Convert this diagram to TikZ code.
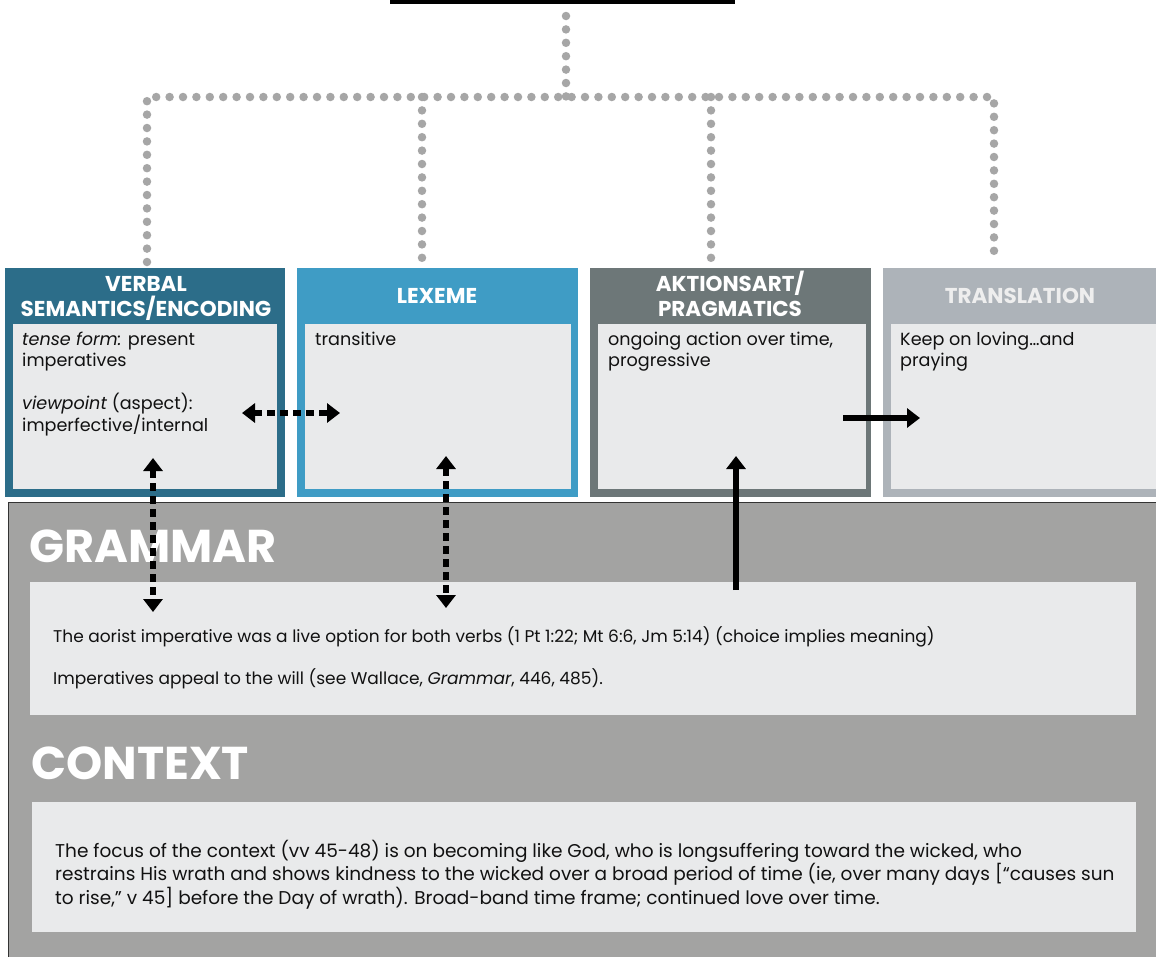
\documentclass[tikz,border=0pt]{standalone}
\usepackage{fontspec}
\setmainfont{Poppins}
\usetikzlibrary{arrows.meta}
\definecolor{verbalc}{HTML}{2C6D89}
\definecolor{lexemec}{HTML}{3F9CC5}
\definecolor{aktionc}{HTML}{6D7778}
\definecolor{transc}{HTML}{ADB3B9}
\definecolor{transtext}{HTML}{EEEEEE}
\definecolor{bodyc}{HTML}{E9EAEB}
\definecolor{panelc}{HTML}{A3A3A2}
\definecolor{dotc}{HTML}{A6A6A6}
\definecolor{inkc}{HTML}{111111}
\begin{document}
\begin{tikzpicture}[x=1pt,y=-1pt,
  card/.style={anchor=north west, inner sep=0, minimum width=280, minimum height=229},
  cardbody/.style={anchor=north west, inner sep=0, fill=bodyc, minimum width=264, minimum height=165},
  cardhead/.style={text=white, align=center, font=\bfseries\fontsize{21.5}{25}\selectfont},
  bodytext/.style={anchor=north west, inner sep=0, align=left, text=inkc, font=\fontsize{17.6}{21}\selectfont},
  panel/.style={anchor=north west, inner sep=0, fill=panelc, draw=black!80, line width=1.2},
  panelbody/.style={anchor=north west, inner sep=0, fill=bodyc},
  paneltitle/.style={anchor=base west, inner sep=0, text=white, font=\bfseries\fontsize{46}{50}\selectfont},
  dotline/.style={draw=dotc, line width=8.5, line cap=round, dash pattern=on 0pt off 13.4pt},
  bigarrow/.style={draw=black, line width=5.5, -{Triangle[length=13pt,width=19pt]}},
  bigdouble/.style={draw=black, line width=5.5, {Triangle[length=13pt,width=19pt]}-{Triangle[length=13pt,width=19pt]}},
  dashedline/.style={dash pattern=on 8pt off 5pt}
]
\useasboundingbox (0,0) rectangle (1156,956);
\fill[white] (0,0) rectangle (1156,956);

% heading bar at the top
\node[anchor=north west, inner sep=0, fill=black, minimum width=345, minimum height=4] (topbar) at (390,0) {};

% dotted tree joining the bar to the four cards
\coordinate (stem) at (566,16);
\coordinate (hub) at (566,97);
\coordinate (hl) at (147,97);
\coordinate (hr) at (994,97);
\coordinate (h2) at (422,97);
\coordinate (h3) at (711,97);
\draw[dotline] (stem) -- (hub);
\draw[dotline] (147,262) -- (hl) -- (hr) -- (994,262);
\draw[dotline] (h2) -- (422,262);
\draw[dotline] (h3) -- (711,262);

% the four cards
\node[card, fill=verbalc] (verbal) at (5,268) {};
\node[card, fill=lexemec, minimum width=281] (lexeme) at (297,268) {};
\node[card, fill=aktionc, minimum width=281] (aktion) at (590,268) {};
\node[card, fill=transc, minimum width=281] (trans) at (883,268) {};

\node[cardbody] (verbalbody) at (13,324) {};
\node[cardbody, minimum width=266] (lexemebody) at (305,324) {};
\node[cardbody, minimum width=268] (aktionbody) at (598,324) {};
\node[cardbody, minimum width=266] (transbody) at (891,324) {};

\node[cardhead] (verbalhead) at (146,298) {VERBAL\\SEMANTICS/ENCODING};
\node[cardhead] (lexemehead) at (437,296) {LEXEME};
\node[cardhead] (aktionhead) at (730,294) {AKTIONSART/\\PRAGMATICS};
\node[cardhead, text=transtext] (transhead) at (1020,296) {TRANSLATION};

\node[bodytext] (verbaltext) at (22,332) {\textit{tense form:} present\\imperatives\\[21pt]\textit{viewpoint} (aspect):\\imperfective/internal};
\node[bodytext] (lexemetext) at (315,332) {transitive};
\node[bodytext] (aktiontext) at (608,332) {ongoing action over time,\\progressive};
\node[bodytext] (transtext) at (900,332) {Keep on loving…and\\praying};

% grammar and context panel
\node[panel, minimum width=1160, minimum height=470] (grammar) at (8,502) {};
\node[paneltitle] (grammartitle) at (29,562) {GRAMMAR};
\node[panelbody, minimum width=1106, minimum height=133] (grammarbody) at (30,582) {};
\node[anchor=base west, inner sep=0, text=inkc, font=\fontsize{17}{42}\selectfont] (grammartext) at (53,642)
  {The aorist imperative was a live option for both verbs (1 Pt 1:22; Mt 6:6, Jm 5:14) (choice implies meaning)};
\node[anchor=base west, inner sep=0, text=inkc, font=\fontsize{17}{42}\selectfont] (grammartextb) at (53,684)
  {Imperatives appeal to the will (see Wallace, \textit{Grammar}, 446, 485).};

\node[paneltitle] (contexttitle) at (31,779) {CONTEXT};
\node[panelbody, minimum width=1104, minimum height=130] (contextbody) at (32,802) {};
\node[anchor=north west, inner sep=0, text=inkc, align=left, font=\fontsize{18.5}{23.5}\selectfont] (contexttext) at (55,840)
  {The focus of the context (vv 45-48) is on becoming like God, who is longsuffering toward the wicked, who\\
   restrains His wrath and shows kindness to the wicked over a broad period of time (ie, over many days [“causes sun\\
   to rise,” v 45] before the Day of wrath). Broad-band time frame; continued love over time.};

% arrows between the cards and the grammar panel
\coordinate (vl) at (242,413);
\coordinate (lr) at (340,413);
\coordinate (va) at (153,458);
\coordinate (vb) at (153,612);
\coordinate (la) at (446,456);
\coordinate (lb) at (446,608);
\coordinate (ga) at (736,590);
\coordinate (gb) at (736,456);
\coordinate (ta) at (843,418);
\coordinate (tb) at (920,418);
\draw[bigdouble, dashedline] (vl) -- (lr);
\draw[bigdouble, dashedline] (va) -- (vb);
\draw[bigdouble, dashedline] (la) -- (lb);
\draw[bigarrow] (ga) -- (gb);
\draw[bigarrow] (ta) -- (tb);
\end{tikzpicture}
\end{document}
